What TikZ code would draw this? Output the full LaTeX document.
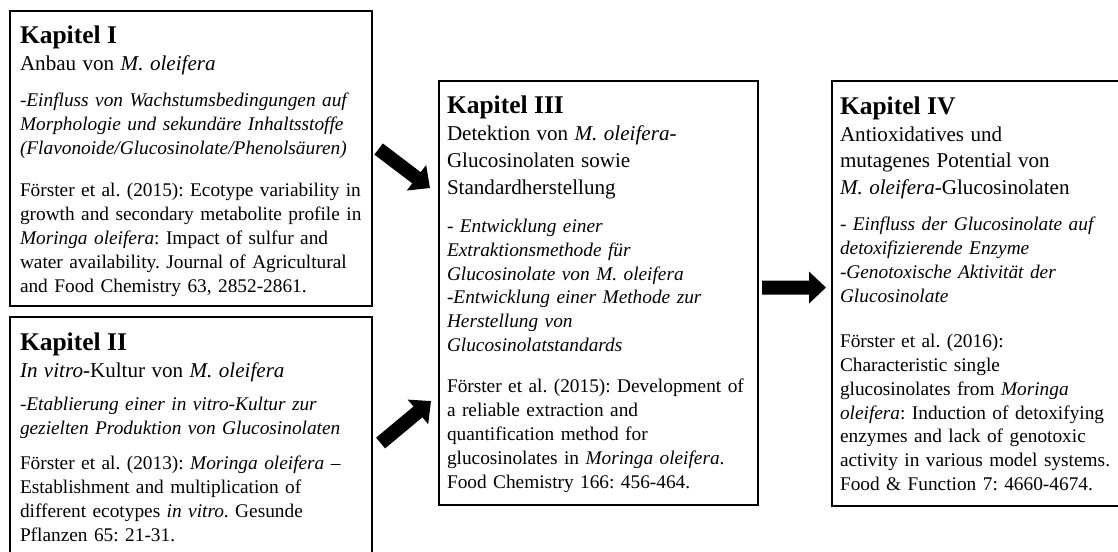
\documentclass[tikz,border=0pt]{standalone}
\usepackage{fontspec}
\setmainfont{Liberation Serif}
\usetikzlibrary{arrows.meta, positioning}
\setlength{\parindent}{0pt}
\frenchspacing
\newcommand{\kaptitle}[1]{{\fontsize{14.5}{16}\selectfont\bfseries #1\par}}
\newcommand{\subsize}{\fontsize{12}{15.3}\selectfont}
\newcommand{\bodysize}{\fontsize{11}{13.6}\selectfont}

\begin{document}
\begin{tikzpicture}[
  kbox/.style={rectangle, draw=black, line width=1.2pt, fill=white, anchor=north west, inner sep=0pt},
  ktext/.style={inner sep=0pt, outer sep=0pt, align=left, font=\bodysize},
  blockarr/.style={line width=0.28cm, -{Triangle[length=0.34cm, width=0.62cm]}},
]
\useasboundingbox (0,0) rectangle (22.36,11.04);
\clip (0,0) rectangle (22.36,11.04);

% chapter boxes
\node[kbox, minimum width=7.24cm, minimum height=5.9cm] (k1) at (0.18,10.84) {};
\node[kbox, minimum width=7.24cm, minimum height=5.0cm] (k2) at (0.18,4.72) {};
\node[kbox, minimum width=6.38cm, minimum height=8.48cm] (k3) at (8.76,9.44) {};
\node[kbox, minimum width=6.2cm, minimum height=8.5cm] (k4) at (16.62,9.44) {};

% chapter texts
\node[ktext, text width=7.0cm, below right=0.31cm and 0.22cm of k1.north west] (t1) {%
\kaptitle{Kapitel I}
{\subsize Anbau von \textit{M. oleifera}\par}
\vspace{7.4pt}
{\itshape -Einfluss von Wachstumsbedingungen auf\\
Morphologie und sekundäre Inhaltsstoffe\\
(Flavonoide/Glucosinolate/Phenolsäuren)\par}
\vspace{10.4pt}
Förster et al. (2015): Ecotype variability in\\
growth and secondary metabolite profile in\\
\textit{Moringa oleifera}: Impact of sulfur and\\
water availability. Journal of Agricultural\\
and Food Chemistry 63, 2852-2861.\par};

\node[ktext, text width=7.0cm, below right=0.33cm and 0.22cm of k2.north west] (t2) {%
\kaptitle{Kapitel II}
{\subsize\textit{In vitro}-Kultur von \textit{M. oleifera}\par}
\vspace{5.7pt}
{\itshape -Etablierung einer in vitro-Kultur zur\\
gezielten Produktion von Glucosinolaten\par}
\vspace{6.3pt}
Förster et al. (2013): \textit{Moringa oleifera} --\\
Establishment and multiplication of\\
different ecotypes \textit{in vitro}. Gesunde\\
Pflanzen 65: 21-31.\par};

\node[ktext, text width=6.1cm, below right=0.32cm and 0.18cm of k3.north west] (t3) {%
\kaptitle{Kapitel III}
{\subsize Detektion von \textit{M. oleifera}-\\
Glucosinolaten sowie\\
Standardherstellung\par}
\vspace{8pt}
{\itshape - Entwicklung einer\\
Extraktionsmethode für\\
Glucosinolate von M. oleifera\\
-Entwicklung einer Methode zur\\
Herstellung von\\
Glucosinolatstandards\par}
\vspace{9.6pt}
Förster et al. (2015): Development of\\
a reliable extraction and\\
quantification method for\\
glucosinolates in \textit{Moringa oleifera}.\\
Food Chemistry 166: 456-464.\par};

\node[ktext, text width=5.8cm, below right=0.33cm and 0.18cm of k4.north west] (t4) {%
\kaptitle{Kapitel IV}
{\subsize Antioxidatives und\\
mutagenes Potential von\\
\textit{M. oleifera}-Glucosinolaten\par}
\vspace{6.8pt}
{\itshape - Einfluss der Glucosinolate auf\\
detoxifizierende Enzyme\\
-Genotoxische Aktivität der\\
Glucosinolate\par}
\vspace{12pt}
Förster et al. (2016):\\
Characteristic single\\
glucosinolates from \textit{Moringa}\\
\textit{oleifera}: Induction of detoxifying\\
enzymes and lack of genotoxic\\
activity in various model systems.\\
Food \& Function 7: 4660-4674.\par};

% arrows
\draw[blockarr] ([xshift=0.11cm, yshift=0.19cm]k1.east) -- ([xshift=-0.16cm, yshift=2.1cm]k3.west);
\draw[blockarr] ([xshift=0.15cm, yshift=-0.02cm]k2.east) -- ([xshift=-0.14cm, yshift=-2.16cm]k3.west);
\draw[blockarr] ([xshift=0.06cm, yshift=0.11cm]k3.east) -- ([xshift=-0.1cm, yshift=0.12cm]k4.west);
\end{tikzpicture}
\end{document}
